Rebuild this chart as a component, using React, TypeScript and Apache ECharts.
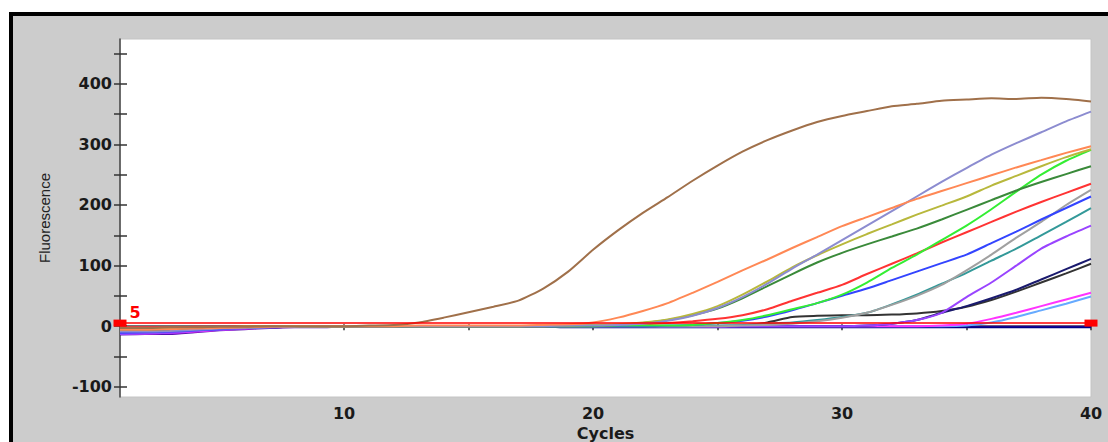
import React, { useEffect, useRef } from "react";
import * as echarts from "echarts";

const cycles = [1,2,3,4,5,6,7,8,9,10,11,12,13,14,15,16,17,18,19,20,21,22,23,24,25,26,27,28,29,30,31,32,33,34,35,36,37,38,39,40];

const brown = [-3,-3,-2,-2,-1,-1,0,0,0,0,1,2,6,14,23,32,42,62,90,126,158,187,213,240,265,288,307,323,337,347,355,363,367,372,374,376,375,377,375,371];
const orange = [-6,-6,-5,-4,-3,-2,-1,0,0,0,0,0,1,1,1,1,1,2,3,6,14,25,38,55,73,92,110,129,147,165,180,195,210,223,236,249,262,274,286,297];
const lavender = [-9,-9,-8,-6,-4,-3,-2,-1,0,0,0,0,0,0,0,0,0,0,1,1,2,4,9,17,30,48,70,95,118,142,166,190,214,238,261,283,302,320,338,354];
const olive = [-4,-4,-3,-3,-2,-1,-1,0,0,0,0,0,0,0,0,0,0,1,1,2,3,6,11,20,33,52,74,97,117,135,152,168,184,199,214,232,248,264,279,292];
const darkGreen = [-7,-7,-6,-5,-3,-2,-1,-1,0,0,0,0,0,0,0,0,0,0,1,1,2,5,10,18,29,46,66,86,105,121,135,148,161,176,192,208,224,238,251,264];
const brightGreen = [-5,-5,-4,-3,-2,-1,-1,0,0,0,0,0,0,0,0,0,0,0,0,0,1,1,1,2,5,10,18,28,38,52,72,96,118,142,166,193,222,250,273,291];
const red = [-2,-2,-2,-1,-1,0,0,0,0,0,0,0,0,0,0,0,0,0,1,1,2,3,5,8,12,18,28,42,55,68,86,103,120,138,155,172,189,205,220,235];
const blue = [-11,-10,-9,-7,-5,-3,-2,-1,0,0,-1,-1,0,0,0,0,0,0,0,0,0,0,1,2,5,9,16,26,38,50,62,76,90,104,118,137,156,176,195,214];
const gray = [-4,-4,-3,-2,-2,-1,-1,0,0,0,0,0,0,0,0,0,0,0,0,0,0,0,0,0,0,1,2,4,8,14,22,35,50,68,92,118,146,172,200,225];
const teal = [-8,-8,-7,-5,-4,-2,-1,-1,0,0,0,0,0,0,0,0,0,0,0,0,0,0,0,0,1,2,4,6,10,15,22,36,52,70,88,108,128,150,172,195];
const purple = [-13,-12,-11,-8,-6,-4,-2,-1,-1,-1,-1,0,0,0,0,0,0,0,0,0,0,0,-1,-1,-1,0,0,0,0,0,1,4,10,22,48,72,100,128,148,166];
const navy = [-10,-10,-9,-7,-5,-3,-2,-1,-1,-1,0,0,0,0,0,0,0,0,0,0,-1,-1,-1,-1,-1,0,0,0,0,0,1,4,10,22,33,46,60,77,94,111];
const black = [-5,-5,-4,-3,-2,-1,-1,0,0,0,0,0,0,0,0,0,0,0,0,0,0,0,0,0,0,1,6,15,17,18,18,19,21,25,32,43,57,72,87,103];
const magenta = [-12,-12,-11,-9,-6,-4,-2,-1,-1,-1,-1,0,0,0,0,0,0,0,0,0,0,0,0,0,0,0,0,0,0,0,0,0,0,1,4,12,22,33,44,55];
const lightBlue = [-6,-6,-5,-4,-3,-2,-1,0,0,0,0,0,0,0,0,0,0,0,0,0,0,0,0,0,0,0,0,0,0,0,0,0,0,0,1,6,15,26,37,49];
const indigo = [-14,-13,-13,-10,-7,-5,-3,-2,-2,-1,-1,-1,-1,-1,-1,-1,-1,-1,-1,-1,-1,-1,-1,-1,-1,-1,-1,-1,-1,-1,-1,-1,-1,-1,-1,-1,-1,-1,-1,-1];
const darkBlue = [-8,-8,-7,-6,-4,-3,-2,-1,-1,-1,-1,-1,-1,-1,-1,-1,-1,-1,-2,-2,-2,-2,-2,-2,-2,-2,-2,-2,-2,-2,-2,-2,-2,-2,-2,-2,-2,-2,-2,-2];

const curves: [string, number[], string][] = [
  ["Indigo", indigo, "#5a10b0"],
  ["Dark blue", darkBlue, "#000088"],
  ["Light blue", lightBlue, "#66aaff"],
  ["Magenta", magenta, "#ff33ff"],
  ["Black", black, "#333333"],
  ["Navy", navy, "#1a1a6e"],
  ["Purple", purple, "#9944ff"],
  ["Teal", teal, "#339999"],
  ["Gray", gray, "#a0a0a0"],
  ["Blue", blue, "#3344ff"],
  ["Red", red, "#ff3333"],
  ["Bright green", brightGreen, "#33ee33"],
  ["Dark green", darkGreen, "#3a8a3a"],
  ["Olive", olive, "#b8b83c"],
  ["Lavender", lavender, "#8c8cd0"],
  ["Orange", orange, "#ff8855"],
  ["Brown", brown, "#a0704a"],
];

const threshold = 5;
const xLabels = [10, 20, 30, 40];
const xTicks = [10, 15, 20, 25, 30, 35, 40];
const yLabels = [-100, 0, 100, 200, 300, 400];
const yTicks = [-100, -50, 0, 50, 100, 150, 200, 250, 300, 350, 400, 450];

export default function App() {
  const ref = useRef<HTMLDivElement>(null);
  useEffect(() => {
    if (!ref.current) return;
    const chart = echarts.init(ref.current, undefined, { renderer: "svg" });
    const labelFont = { fontFamily: "DejaVu Sans", fontWeight: "bold" as const, fontSize: 16, color: "#1a1a1a" };
    const series: any[] = curves.map(([name, vals, color]) => ({
      name,
      type: "line",
      data: cycles.map((c, i) => [c, vals[i]]),
      showSymbol: false,
      smooth: 0.2,
      lineStyle: { color, width: 2 },
      itemStyle: { color },
    }));
    series.push({
      name: "Threshold",
      type: "line",
      clip: false,
      data: [
        {
          value: [cycles[0], threshold],
          label: {
            show: true,
            formatter: String(threshold),
            position: [16, -15],
            color: "#ff0000",
            fontFamily: "DejaVu Sans",
            fontWeight: "bold",
            fontSize: 16,
          },
        },
        { value: [cycles[cycles.length - 1], threshold] },
      ],
      symbol: "rect",
      symbolSize: [13, 7],
      showSymbol: true,
      lineStyle: { color: "#ff0000", width: 1.5 },
      itemStyle: { color: "#ff0000" },
      z: 5,
    });
    chart.setOption({
      animation: false,
      backgroundColor: "transparent",
      grid: {
        left: 120, top: 39, right: 17, bottom: 45,
        outerBoundsMode: "none",
        containLabel: false,
        show: true, backgroundColor: "#ffffff", borderColor: "#c4c4c4", borderWidth: 1,
      },
      xAxis: [
        {
          type: "value",
          min: 1,
          max: 40,
          name: "Cycles",
          nameLocation: "middle",
          nameGap: 23,
          nameTextStyle: { fontFamily: "DejaVu Sans", fontWeight: "bold", fontSize: 16, color: "#1a1a1a" },
          axisLine: { show: true, lineStyle: { color: "#444", width: 1.5 } },
          axisTick: { show: true, customValues: xTicks, length: 4, lineStyle: { color: "#333", width: 1.5 } },
          axisLabel: { customValues: xLabels, margin: 8, ...labelFont },
          splitLine: { show: false },
        },
        {
          type: "value",
          min: 1,
          max: 40,
          position: "bottom",
          axisLine: { show: false },
          axisTick: { show: true, inside: true, customValues: xTicks, length: 2, lineStyle: { color: "#333", width: 1.5 } },
          axisLabel: { show: false },
          splitLine: { show: false },
        },
      ],
      yAxis: [
        {
          type: "value",
          min: -117,
          max: 474,
          name: "Fluorescence",
          nameLocation: "middle",
          nameGap: 68,
          nameRotate: 90,
          nameTextStyle: { fontFamily: "Liberation Sans", fontSize: 15, color: "#222" },
          axisLine: { show: true, lineStyle: { color: "#444", width: 1.5 } },
          axisTick: { show: true, customValues: yTicks, length: 6, lineStyle: { color: "#333", width: 1.5 } },
          axisLabel: { customValues: yLabels, margin: 8, ...labelFont },
          splitLine: { show: false },
        },
        {
          type: "value",
          min: -117,
          max: 474,
          position: "left",
          axisLine: { show: false },
          axisTick: { show: true, inside: true, customValues: yTicks, length: 7, lineStyle: { color: "#333", width: 1.5 } },
          axisLabel: { show: false },
          splitLine: { show: false },
        },
      ],
      series,
    });
    return () => chart.dispose();
  }, []);

  return (
    <div style={{ position: "fixed", left: 0, top: 0, width: 1108, height: 442, background: "#ffffff", overflow: "hidden" }}>
      <div
        style={{
          position: "absolute",
          left: 9,
          top: 12,
          right: 0,
          bottom: 0,
          background: "#cccccc",
          borderLeft: "4px solid #000",
          borderTop: "4px solid #000",
        }}
      />
      <div ref={ref} style={{ position: "absolute", left: 0, top: 0, width: 1108, height: 442 }} />
    </div>
  );
}
